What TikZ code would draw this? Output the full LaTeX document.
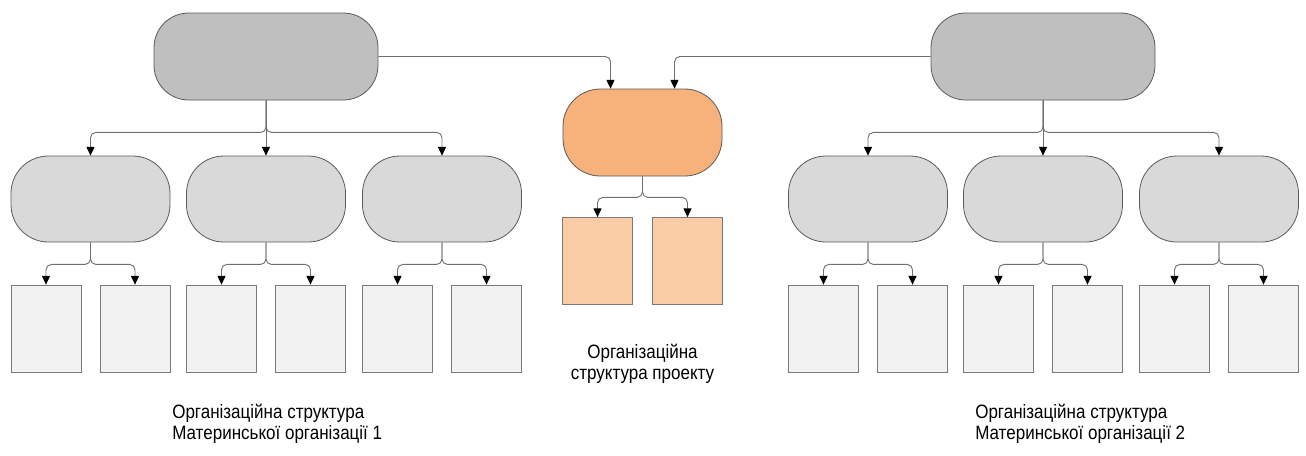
\documentclass[tikz,border=0pt]{standalone}
\usepackage{fontspec}
\setmainfont{Liberation Sans}
\newfontfamily\capfont[FakeStretch=0.88]{Liberation Sans}
\usetikzlibrary{arrows.meta}
\definecolor{topfill}{HTML}{BFBFBF}
\definecolor{midfill}{HTML}{D9D9D9}
\definecolor{leaffill}{HTML}{F2F2F2}
\definecolor{projfill}{HTML}{F6B27A}
\definecolor{projleaffill}{HTML}{F9CCA6}
\definecolor{nodeborder}{HTML}{5A5A5A}
\definecolor{leafborder}{HTML}{7A7A7A}
\definecolor{linkgray}{HTML}{707070}
\begin{document}
\begin{tikzpicture}[x=0.75pt,y=-0.75pt,
  unit/.style={draw=nodeborder, line width=0.6pt, inner sep=0pt},
  topunit/.style={unit, fill=topfill, minimum width=168pt, minimum height=65.25pt, rounded corners=26pt},
  midunit/.style={unit, fill=midfill, minimum width=119.25pt, minimum height=64.5pt, rounded corners=28pt},
  projunit/.style={unit, fill=projfill, minimum width=119.25pt, minimum height=65.25pt, rounded corners=28pt},
  leaf/.style={draw=leafborder, fill=leaffill, line width=0.6pt, minimum width=52.5pt, minimum height=65.25pt, inner sep=0pt},
  projleaf/.style={leaf, fill=projleaffill},
  link/.style={draw=linkgray, line width=0.7pt, rounded corners=4pt, -{Triangle[length=6.5pt,width=6pt,color=black]}},
  caption/.style={font=\capfont\fontsize{14.5pt}{15.75pt}\selectfont, inner sep=0pt}
]
\useasboundingbox (0,0) rectangle (1306,455);

% parent organisations
\node[topunit] (t1) at (266,56.5) {};
\node[topunit] (t2) at (1043,56.5) {};

% project unit
\node[projunit] (p) at (642.5,132.5) {};
\node[projleaf] (pa) at (597.5,261) {};
\node[projleaf] (pb) at (687.5,261) {};

% departments and their sub-units
\foreach \n/\cx in {1/90.5, 2/266, 3/442, 4/868, 5/1043, 6/1219} {
  \node[midunit] (m\n) at (\cx,199) {};
  \node[leaf] (m\n a) at (\cx-44.5,328.5) {};
  \node[leaf] (m\n b) at (\cx+44.5,328.5) {};
  \draw[link] (m\n.south) -- ++(0,22) -| (m\n a.north);
  \draw[link] (m\n.south) -- ++(0,22) -| (m\n b.north);
}

% parent organisation 1 to its departments
\draw[link] (t1.south) -- ++(0,32) -| (m1.north);
\draw[link] (t1.south) -- (m2.north);
\draw[link] (t1.south) -- ++(0,32) -| (m3.north);

% parent organisation 2 to its departments
\draw[link] (t2.south) -- ++(0,32) -| (m4.north);
\draw[link] (t2.south) -- (m5.north);
\draw[link] (t2.south) -- ++(0,32) -| (m6.north);

% project unit to its sub-units
\draw[link] (p.south) -- ++(0,21) -| (pa.north);
\draw[link] (p.south) -- ++(0,21) -| (pb.north);

% parents delegate to the project
\draw[link] (t1.east) -| ([xshift=-24pt]p.north);
\draw[link] (t2.west) -| ([xshift=24pt]p.north);

% captions
\node[caption, anchor=north west, align=left] (c1) at (172,404)
  {Організаційна структура\\Материнської організації 1};
\node[caption, anchor=north, align=center] (cp) at (642.5,344)
  {Організаційна\\структура проекту};
\node[caption, anchor=north west, align=left] (c2) at (975,404)
  {Організаційна структура\\Материнської організації 2};
\end{tikzpicture}
\end{document}
